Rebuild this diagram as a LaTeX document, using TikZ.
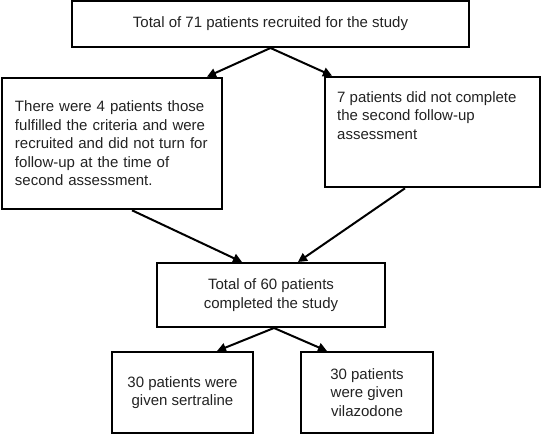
\documentclass[tikz,border=0pt]{standalone}
\usepackage{fontspec}
\setmainfont{Liberation Sans}
\usetikzlibrary{arrows.meta}
\definecolor{txt}{RGB}{34,34,34}
\begin{document}
\begin{tikzpicture}[x=1pt,y=-1pt,
  box/.style={draw=black, line width=2pt, inner sep=0pt, align=center,
              font=\fontsize{15}{18.5}\selectfont, text=txt},
  thickbox/.style={box, line width=2.6pt},
  plain/.style={inner sep=0pt, align=left, font=\fontsize{15}{18.5}\selectfont, text=txt},
  arr/.style={line width=2pt, draw=black, -{Triangle[length=9pt,width=9pt]}}]
\useasboundingbox (0,0) rectangle (542,435);

\node[box, minimum width=397pt, minimum height=46pt] (top) at (270.5,24)
  {Total of 71 patients recruited for the study};

\node[thickbox, minimum width=220pt, minimum height=131pt, text width=194pt,
      inner xsep=13pt, align=left] (left) at (112,143.5)
  {There were 4 patients those\\fulfilled the criteria and were\\recruited and did not turn for\\follow-up at the time of\\second assessment.};

\node[thickbox, minimum width=215pt, minimum height=110pt] (right) at (432.5,132) {};
\node[plain, anchor=north west] (righttext) at (337,91)
  {7 patients did not complete\\the second follow-up\\assessment};

\node[box, minimum width=228pt, minimum height=64pt] (mid) at (271,295)
  {Total of 60 patients\\completed the study};

\node[box, minimum width=141pt, minimum height=81pt] (bl) at (182.5,392.5)
  {30 patients were\\given sertraline};
\node[box, minimum width=132pt, minimum height=81pt] (br) at (367,392.5)
  {30 patients\\were given\\vilazodone};

\draw[arr] (top.south) -- ([xshift=95pt]left.north);
\draw[arr] (top.south) -- ([xshift=-100.5pt]right.north);
\draw[arr] ([xshift=20pt]left.south) -- ([xshift=-29pt]mid.north);
\draw[arr] ([xshift=-27.5pt]right.south) -- ([xshift=27pt]mid.north);
\draw[arr] ([xshift=3pt]mid.south) -- ([xshift=34.5pt]bl.north);
\draw[arr] ([xshift=3pt]mid.south) -- ([xshift=-40pt]br.north);
\end{tikzpicture}
\end{document}
